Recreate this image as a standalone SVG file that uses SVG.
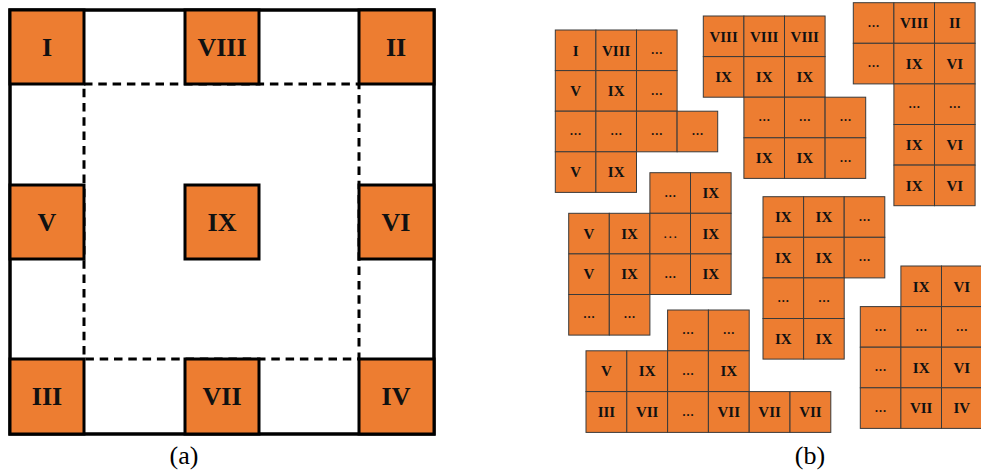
<svg xmlns="http://www.w3.org/2000/svg" width="981" height="474" viewBox="0 0 981 474">
<style>
.o{fill:#ED7D31;stroke:#000;stroke-width:3}
.L{font-family:"Liberation Serif",serif;font-weight:bold;font-size:26px;text-anchor:middle;fill:#111}
.cap{font-family:"Liberation Serif",serif;font-size:26px;text-anchor:middle;fill:#000}
.c{fill:#ED7D31;stroke:#3a3a3a;stroke-width:1}
.t{font-family:"Liberation Serif",serif;font-weight:bold;font-size:15px;text-anchor:middle;fill:#111}
.d{font-family:"Liberation Serif",serif;font-weight:bold;font-size:12px;text-anchor:middle;fill:#111}
.w{font-family:"Liberation Serif",serif;font-size:15px;text-anchor:middle;fill:#111}
</style>
<rect width="981" height="474" fill="#fff"/>
<g id="connectors"/>
<!-- (a) -->
<g id="panel-a">
<rect x="10" y="10" width="424" height="424" fill="#fff" stroke="#000" stroke-width="3.5"/>
<rect x="84" y="84" width="275" height="275" fill="none" stroke="#000" stroke-width="3" stroke-dasharray="8.5 5.8"/>
<g id="a-I"><rect class="o" x="10" y="10" width="74" height="74"/><text class="L" x="47" y="56">I</text></g>
<g id="a-VIII"><rect class="o" x="185" y="10" width="74" height="74"/><text class="L" x="222" y="56">VIII</text></g>
<g id="a-II"><rect class="o" x="359" y="10" width="75" height="74"/><text class="L" x="396" y="56">II</text></g>
<g id="a-V"><rect class="o" x="10" y="185" width="74" height="74"/><text class="L" x="47" y="231">V</text></g>
<g id="a-IX"><rect class="o" x="185" y="185" width="74" height="74"/><text class="L" x="222" y="231">IX</text></g>
<g id="a-VI"><rect class="o" x="359" y="185" width="75" height="74"/><text class="L" x="396" y="231">VI</text></g>
<g id="a-III"><rect class="o" x="10" y="359" width="74" height="75"/><text class="L" x="47" y="405">III</text></g>
<g id="a-VII"><rect class="o" x="185" y="359" width="74" height="75"/><text class="L" x="222" y="405">VII</text></g>
<g id="a-IV"><rect class="o" x="359" y="359" width="75" height="75"/><text class="L" x="396" y="405">IV</text></g>
<text class="cap" x="184" y="464">(a)</text>
</g>
<!-- (b) -->
<g id="cluster-A" transform="translate(555.3,30)">
<rect class="c" x="0" y="0" width="40.6" height="40.6"/><rect class="c" x="40.6" y="0" width="40.6" height="40.6"/><rect class="c" x="81.2" y="0" width="40.6" height="40.6"/>
<rect class="c" x="0" y="40.6" width="40.6" height="40.6"/><rect class="c" x="40.6" y="40.6" width="40.6" height="40.6"/><rect class="c" x="81.2" y="40.6" width="40.6" height="40.6"/>
<rect class="c" x="0" y="81.2" width="40.6" height="40.6"/><rect class="c" x="40.6" y="81.2" width="40.6" height="40.6"/><rect class="c" x="81.2" y="81.2" width="40.6" height="40.6"/><rect class="c" x="121.8" y="81.2" width="40.6" height="40.6"/>
<rect class="c" x="0" y="121.8" width="40.6" height="40.6"/><rect class="c" x="40.6" y="121.8" width="40.6" height="40.6"/>
<text class="t" x="20.3" y="25.5">I</text><text class="t" x="60.9" y="25.5">VIII</text><text class="d" x="101.5" y="24">…</text>
<text class="t" x="20.3" y="66.1">V</text><text class="t" x="60.9" y="66.1">IX</text><text class="d" x="101.5" y="64.6">…</text>
<text class="d" x="20.3" y="105.2">…</text><text class="d" x="60.9" y="105.2">…</text><text class="d" x="101.5" y="105.2">…</text><text class="d" x="142.1" y="105.2">…</text>
<text class="t" x="20.3" y="147.3">V</text><text class="t" x="60.9" y="147.3">IX</text>
</g>
<g id="cluster-B" transform="translate(703.3,16)">
<rect class="c" x="0" y="0" width="40.6" height="40.6"/><rect class="c" x="40.6" y="0" width="40.6" height="40.6"/><rect class="c" x="81.2" y="0" width="40.6" height="40.6"/>
<rect class="c" x="0" y="40.6" width="40.6" height="40.6"/><rect class="c" x="40.6" y="40.6" width="40.6" height="40.6"/><rect class="c" x="81.2" y="40.6" width="40.6" height="40.6"/>
<rect class="c" x="40.6" y="81.2" width="40.6" height="40.6"/><rect class="c" x="81.2" y="81.2" width="40.6" height="40.6"/><rect class="c" x="121.8" y="81.2" width="40.6" height="40.6"/>
<rect class="c" x="40.6" y="121.8" width="40.6" height="40.6"/><rect class="c" x="81.2" y="121.8" width="40.6" height="40.6"/><rect class="c" x="121.8" y="121.8" width="40.6" height="40.6"/>
<text class="t" x="20.3" y="25.5">VIII</text><text class="t" x="60.9" y="25.5">VIII</text><text class="t" x="101.5" y="25.5">VIII</text>
<text class="t" x="20.3" y="66.1">IX</text><text class="t" x="60.9" y="66.1">IX</text><text class="t" x="101.5" y="66.1">IX</text>
<text class="d" x="60.9" y="105.2">…</text><text class="d" x="101.5" y="105.2">…</text><text class="d" x="142.1" y="105.2">…</text>
<text class="t" x="60.9" y="147.3">IX</text><text class="t" x="101.5" y="147.3">IX</text><text class="d" x="142.1" y="145.8">…</text>
</g>
<g id="cluster-C" transform="translate(853.3,2.7)">
<rect class="c" x="0" y="0" width="40.6" height="40.6"/><rect class="c" x="40.6" y="0" width="40.6" height="40.6"/><rect class="c" x="81.2" y="0" width="40.6" height="40.6"/>
<rect class="c" x="0" y="40.6" width="40.6" height="40.6"/><rect class="c" x="40.6" y="40.6" width="40.6" height="40.6"/><rect class="c" x="81.2" y="40.6" width="40.6" height="40.6"/>
<rect class="c" x="40.6" y="81.2" width="40.6" height="40.6"/><rect class="c" x="81.2" y="81.2" width="40.6" height="40.6"/>
<rect class="c" x="40.6" y="121.8" width="40.6" height="40.6"/><rect class="c" x="81.2" y="121.8" width="40.6" height="40.6"/>
<rect class="c" x="40.6" y="162.4" width="40.6" height="40.6"/><rect class="c" x="81.2" y="162.4" width="40.6" height="40.6"/>
<text class="d" x="20.3" y="24">…</text><text class="t" x="60.9" y="25.5">VIII</text><text class="t" x="101.5" y="25.5">II</text>
<text class="d" x="20.3" y="64.6">…</text><text class="t" x="60.9" y="66.1">IX</text><text class="t" x="101.5" y="66.1">VI</text>
<text class="d" x="60.9" y="105.2">…</text><text class="d" x="101.5" y="105.2">…</text>
<text class="t" x="60.9" y="147.3">IX</text><text class="t" x="101.5" y="147.3">VI</text>
<text class="t" x="60.9" y="187.9">IX</text><text class="t" x="101.5" y="187.9">VI</text>
</g>
<g id="cluster-D" transform="translate(568.7,172.7)">
<rect class="c" x="81.2" y="0" width="40.6" height="40.6"/><rect class="c" x="121.8" y="0" width="40.6" height="40.6"/>
<rect class="c" x="0" y="40.6" width="40.6" height="40.6"/><rect class="c" x="40.6" y="40.6" width="40.6" height="40.6"/><rect class="c" x="81.2" y="40.6" width="40.6" height="40.6"/><rect class="c" x="121.8" y="40.6" width="40.6" height="40.6"/>
<rect class="c" x="0" y="81.2" width="40.6" height="40.6"/><rect class="c" x="40.6" y="81.2" width="40.6" height="40.6"/><rect class="c" x="81.2" y="81.2" width="40.6" height="40.6"/><rect class="c" x="121.8" y="81.2" width="40.6" height="40.6"/>
<rect class="c" x="0" y="121.8" width="40.6" height="40.6"/><rect class="c" x="40.6" y="121.8" width="40.6" height="40.6"/>
<text class="d" x="101.5" y="24">…</text><text class="t" x="142.1" y="25.5">IX</text>
<text class="t" x="20.3" y="66.1">V</text><text class="t" x="60.9" y="66.1">IX</text><text class="w" x="101.5" y="65.5">…</text><text class="t" x="142.1" y="66.1">IX</text>
<text class="t" x="20.3" y="106.7">V</text><text class="t" x="60.9" y="106.7">IX</text><text class="d" x="101.5" y="105.2">…</text><text class="t" x="142.1" y="106.7">IX</text>
<text class="d" x="20.3" y="145.8">…</text><text class="d" x="60.9" y="145.8">…</text>
</g>
<g id="cluster-E" transform="translate(763,196.7)">
<rect class="c" x="0" y="0" width="40.6" height="40.6"/><rect class="c" x="40.6" y="0" width="40.6" height="40.6"/><rect class="c" x="81.2" y="0" width="40.6" height="40.6"/>
<rect class="c" x="0" y="40.6" width="40.6" height="40.6"/><rect class="c" x="40.6" y="40.6" width="40.6" height="40.6"/><rect class="c" x="81.2" y="40.6" width="40.6" height="40.6"/>
<rect class="c" x="0" y="81.2" width="40.6" height="40.6"/><rect class="c" x="40.6" y="81.2" width="40.6" height="40.6"/>
<rect class="c" x="0" y="121.8" width="40.6" height="40.6"/><rect class="c" x="40.6" y="121.8" width="40.6" height="40.6"/>
<text class="t" x="20.3" y="25.5">IX</text><text class="t" x="60.9" y="25.5">IX</text><text class="d" x="101.5" y="24">…</text>
<text class="t" x="20.3" y="66.1">IX</text><text class="t" x="60.9" y="66.1">IX</text><text class="d" x="101.5" y="64.6">…</text>
<text class="d" x="20.3" y="105.2">…</text><text class="d" x="60.9" y="105.2">…</text>
<text class="t" x="20.3" y="147.3">IX</text><text class="t" x="60.9" y="147.3">IX</text>
</g>
<g id="cluster-F" transform="translate(860.3,266)">
<rect class="c" x="40.6" y="0" width="40.6" height="40.6"/><rect class="c" x="81.2" y="0" width="40.6" height="40.6"/>
<rect class="c" x="0" y="40.6" width="40.6" height="40.6"/><rect class="c" x="40.6" y="40.6" width="40.6" height="40.6"/><rect class="c" x="81.2" y="40.6" width="40.6" height="40.6"/>
<rect class="c" x="0" y="81.2" width="40.6" height="40.6"/><rect class="c" x="40.6" y="81.2" width="40.6" height="40.6"/><rect class="c" x="81.2" y="81.2" width="40.6" height="40.6"/>
<rect class="c" x="0" y="121.8" width="40.6" height="40.6"/><rect class="c" x="40.6" y="121.8" width="40.6" height="40.6"/><rect class="c" x="81.2" y="121.8" width="40.6" height="40.6"/>
<text class="t" x="60.9" y="25.5">IX</text><text class="t" x="101.5" y="25.5">VI</text>
<text class="d" x="20.3" y="64.6">…</text><text class="d" x="60.9" y="64.6">…</text><text class="d" x="101.5" y="64.6">…</text>
<text class="d" x="20.3" y="105.2">…</text><text class="t" x="60.9" y="106.7">IX</text><text class="t" x="101.5" y="106.7">VI</text>
<text class="d" x="20.3" y="145.8">…</text><text class="t" x="60.9" y="147.3">VII</text><text class="t" x="101.5" y="147.3">IV</text>
</g>
<g id="cluster-G" transform="translate(586,310)">
<rect class="c" x="81.6" y="0" width="40.8" height="40.8"/><rect class="c" x="122.4" y="0" width="40.8" height="40.8"/>
<rect class="c" x="0" y="40.8" width="40.8" height="40.8"/><rect class="c" x="40.8" y="40.8" width="40.8" height="40.8"/><rect class="c" x="81.6" y="40.8" width="40.8" height="40.8"/><rect class="c" x="122.4" y="40.8" width="40.8" height="40.8"/>
<rect class="c" x="0" y="81.6" width="40.8" height="40.8"/><rect class="c" x="40.8" y="81.6" width="40.8" height="40.8"/><rect class="c" x="81.6" y="81.6" width="40.8" height="40.8"/><rect class="c" x="122.4" y="81.6" width="40.8" height="40.8"/><rect class="c" x="163.2" y="81.6" width="40.8" height="40.8"/><rect class="c" x="204" y="81.6" width="40.8" height="40.8"/>
<text class="d" x="102" y="24">…</text><text class="d" x="142.8" y="24">…</text>
<text class="t" x="20.4" y="66.3">V</text><text class="t" x="61.2" y="66.3">IX</text><text class="d" x="102" y="64.8">…</text><text class="t" x="142.8" y="66.3">IX</text>
<text class="t" x="20.4" y="107.1">III</text><text class="t" x="61.2" y="107.1">VII</text><text class="d" x="102" y="105.6">…</text><text class="t" x="142.8" y="107.1">VII</text><text class="t" x="183.6" y="107.1">VII</text><text class="t" x="224.4" y="107.1">VII</text>
</g>
<text class="cap" x="810" y="464">(b)</text>
</svg>
